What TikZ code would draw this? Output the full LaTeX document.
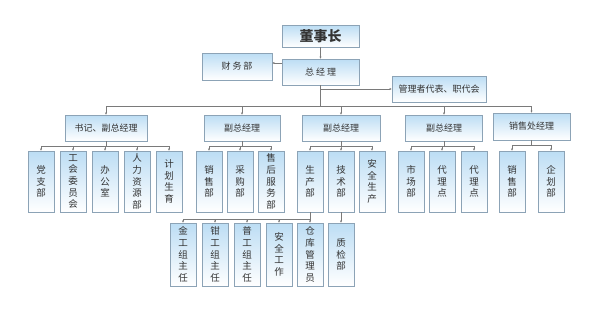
\documentclass[tikz,border=0pt]{standalone}
\usepackage{fontspec}
\setmainfont{Noto Sans CJK SC}
\usepackage{tikz}
\usetikzlibrary{arrows.meta,shadows}
\definecolor{boxblue}{HTML}{BCDDF4}
\definecolor{boxline}{HTML}{8CA3B6}
\definecolor{linkgray}{HTML}{7A7A7A}
\definecolor{txt}{HTML}{333333}

\begin{document}
\begin{tikzpicture}[x=1pt, y=-1pt,
	unit/.style={draw=boxline, top color=boxblue, bottom color=white, inner sep=0pt, text=txt,
		drop shadow={shadow xshift=0.8pt, shadow yshift=-0.8pt, opacity=0.25}},
	hbox/.style={unit, minimum width=77pt, minimum height=26pt, font=\fontsize{9}{11}\selectfont},
	vbox/.style={unit, minimum width=26pt, minimum height=61pt, text width=26pt, align=center,
		font=\fontsize{9.5}{11.6}\selectfont},
	low/.style={vbox, minimum height=63pt},
	link/.style={draw=linkgray, line width=0.5pt},
	arr/.style={link, -{Latex[length=2.2pt, width=2.2pt]}}]
	\useasboundingbox (0,0) rectangle (591,325);
	% top
	\node[unit, minimum width=77pt, minimum height=22pt, font=\fontsize{14}{16}\selectfont\bfseries] (chair) at (320.5,36) {董事长};
	\node[hbox] (gm) at (320.5,72) {总\hspace{2pt}经\hspace{2pt}理};
	\node[hbox, minimum width=70pt, minimum height=27pt] (fin) at (237,66.5) {财\hspace{2pt}务\hspace{2pt}部};
	\node[hbox, minimum width=94pt] (rep) at (439,89) {管理者代表、职代会};
	\coordinate (bus) at (320.5,106);
	% second level
	\node[hbox, minimum width=82pt] (sec) at (106,128) {书记、副总经理};
	\node[hbox, minimum width=76pt] (vpa) at (242,128) {副总经理};
	\node[hbox, minimum width=78pt] (vpb) at (341,128) {副总经理};
	\node[hbox] (vpc) at (444,128) {副总经理};
	\node[hbox, minimum height=27pt] (sal) at (531.5,126.5) {销售处经理};
	% third level
	\node[vbox] (party) at (41,181.5) {党\\支\\部};
	\node[vbox] (union) at (73,181.5) {工\\会\\委\\员\\会};
	\node[vbox] (office) at (105,181.5) {办\\公\\室};
	\node[vbox] (hr) at (137,181.5) {人\\力\\资\\源\\部};
	\node[vbox] (plan) at (169,181.5) {计\\划\\生\\育};
	\node[vbox] (sales) at (209,181.5) {销\\售\\部};
	\node[vbox] (buy) at (240,181.5) {采\\购\\部};
	\node[vbox] (after) at (271,181.5) {售\\后\\服\\务\\部};
	\node[vbox] (prod) at (310,181.5) {生\\产\\部};
	\node[vbox] (tech) at (341,181.5) {技\\术\\部};
	\node[vbox] (safe) at (372,181.5) {安\\全\\生\\产};
	\node[vbox] (market) at (411,181.5) {市\\场\\部};
	\node[vbox] (agenta) at (442,181.5) {代\\理\\点};
	\node[vbox] (agentb) at (474,181.5) {代\\理\\点};
	\node[vbox] (salesb) at (512,181.5) {销\\售\\部};
	\node[vbox] (design) at (551,181.5) {企\\划\\部};
	% fourth level
	\node[low] (gold) at (183,254.5) {金\\工\\组\\主\\任};
	\node[low] (fitter) at (215,254.5) {钳\\工\\组\\主\\任};
	\node[low] (common) at (247,254.5) {普\\工\\组\\主\\任};
	\node[low] (safework) at (279,254.5) {安\\全\\工\\作};
	\node[low] (store) at (310,254.5) {仓\\库\\管\\理\\员};
	\node[low] (check) at (341,254.5) {质\\检\\部};
	% connectors
	\draw[arr] (chair) -- (gm);
	\draw[arr] ([yshift=3.5pt]fin.east -| gm.west) -- ([yshift=3.5pt]fin.east);
	\draw[link] (gm) -- (bus);
	\draw[arr] (gm.south |- rep.west) -- (rep.west);
	\foreach \n in {sec,vpa,vpb,vpc,sal}
		\draw[arr] (bus) -| (\n.north);
	\foreach \n in {party,union,office,hr,plan}
		\draw[arr] (sec.south) -- ++(0,5) -| (\n.north);
	\foreach \n in {sales,buy,after}
		\draw[arr] (vpa.south) -- ++(0,5) -| (\n.north);
	\foreach \n in {prod,tech,safe}
		\draw[arr] (vpb.south) -- ++(0,5) -| (\n.north);
	\foreach \n in {market,agenta,agentb}
		\draw[arr] (vpc.south) -- ++(0,5) -| (\n.north);
	\foreach \n in {salesb,design}
		\draw[arr] (sal.south) -- ++(0,5) -| (\n.north);
	\foreach \n in {gold,fitter,common,safework,store}
		\draw[arr] (prod.south) -- ++(0,7) -| (\n.north);
	\draw[arr] (tech) -- (check);
\end{tikzpicture}
\end{document}
